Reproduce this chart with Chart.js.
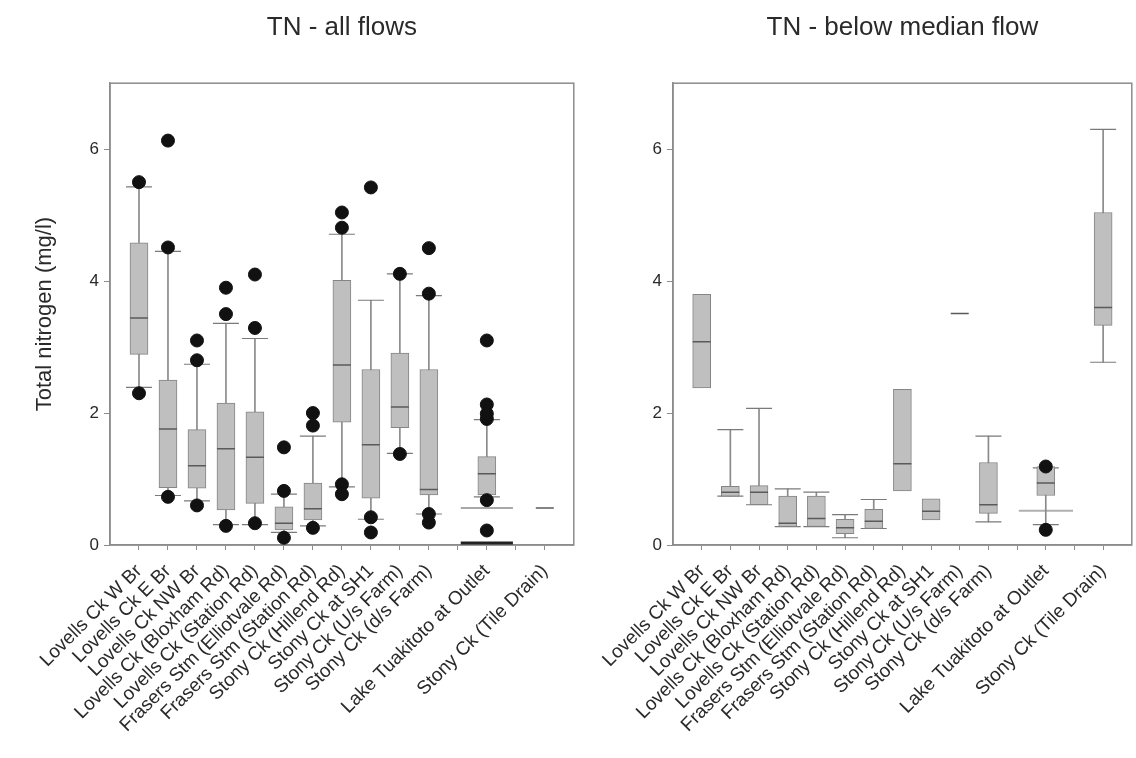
<!DOCTYPE html>
<html>
<head>
<meta charset="utf-8">
<script src="https://cdn.jsdelivr.net/npm/chart.js@4.4.0/dist/chart.umd.min.js"></script>
<style>
    body { margin: 0; background: #fff; width: 1136px; height: 758px; overflow: hidden; position: relative; }
    .painel { position: absolute; top: 0; height: 758px; }
</style>
</head>
<body>
<div class="painel" style="left:0;width:588px"><canvas id="graficoTodos"></canvas></div>
<div class="painel" style="left:580px;width:566px"><canvas id="graficoMediana"></canvas></div>
<script>
// Locais (posicoes 12 e 14 ficam vazias no eixo)
const sites = [
    "Lovells Ck W Br",
    "Lovells Ck E Br",
    "Lovells Ck NW Br",
    "Lovells Ck (Bloxham Rd)",
    "Lovells Ck (Station Rd)",
    "Frasers Stm (Elliotvale Rd)",
    "Frasers Stm (Station Rd)",
    "Stony Ck (Hillend Rd)",
    "Stony Ck at SH1",
    "Stony Ck (U/s Farm)",
    "Stony Ck (d/s Farm)",
    "",
    "Lake Tuakitoto at Outlet",
    "",
    "Stony Ck (Tile Drain)",
];
const yTicks = [0, 2, 4, 6];

// TN - all flows
const allQ1 = [2.89, 0.87, 0.86, 0.53, 0.63, 0.23, 0.38, 1.86, 0.71, 1.78, 0.76, null, 0.76, null, 0.56];
const allMed = [3.44, 1.76, 1.20, 1.46, 1.33, 0.33, 0.55, 2.73, 1.52, 2.09, 0.84, null, 1.08, null, 0.56];
const allQ3 = [4.58, 2.50, 1.75, 2.15, 2.02, 0.58, 0.94, 4.01, 2.66, 2.91, 2.66, null, 1.34, null, 0.56];
const allWLo = [2.39, 0.75, 0.67, 0.31, 0.31, 0.19, 0.29, 0.88, 0.39, 1.39, 0.47, null, 0.73, null, null];
const allWHi = [5.43, 4.45, 2.74, 3.36, 3.13, 0.77, 1.65, 4.71, 3.71, 4.11, 3.78, null, 1.90, null, null];
const allOut = [
    [5.5, 2.3], [6.13, 4.51, 0.73], [3.1, 2.8, 0.6], [3.9, 3.5, 0.29], [4.1, 3.29, 0.33],
    [1.48, 0.82, 0.11], [2.0, 1.81, 0.26], [5.04, 4.81, 0.92, 0.77], [5.42, 0.42, 0.19],
    [4.11, 1.38], [4.5, 3.81, 0.47, 0.34], [], [3.1, 2.13, 1.99, 1.91, 0.68, 0.22], [], [],
];
const allRefX = [12.1, 13.9];
const allRefY = [0.56, 0.56];
const allBaseY = [0.03, 0.03];

// TN - below median flow
const lowQ1 = [2.38, 0.74, 0.61, 0.28, 0.28, 0.17, 0.25, 0.82, 0.38, 3.51, 0.48, null, 0.75, null, 3.33];
const lowMed = [3.08, 0.80, 0.80, 0.33, 0.40, 0.26, 0.36, 1.23, 0.51, 3.51, 0.61, null, 0.94, null, 3.60];
const lowQ3 = [3.80, 0.89, 0.90, 0.74, 0.74, 0.39, 0.54, 2.36, 0.70, 3.51, 1.25, null, 1.19, null, 5.04];
const lowWLo = [null, 0.74, 0.61, 0.28, 0.28, 0.11, 0.25, null, null, null, 0.35, null, 0.31, null, 2.77];
const lowWHi = [null, 1.75, 2.07, 0.85, 0.80, 0.46, 0.69, null, null, null, 1.65, null, 1.17, null, 6.30];
const lowOut = [[], [], [], [], [], [], [], [], [], [], [], [], [1.19, 0.23], [], []];
const lowRefX = [12.06, 13.95];
const lowRefY = [0.52, 0.52];

const fonte = "'Liberation Sans', Arial, sans-serif";

function pontos(valores) {
    return valores
        .map((v, i) => (v === null ? null : { x: i + 1, y: v }))
        .filter((p) => p);
}

function faixas(lo, hi) {
    return lo
        .map((v, i) => (v === null || hi[i] === null || v === hi[i] ? null : { x: i + 1, y: [v, hi[i]] }))
        .filter((p) => p);
}

function linha(xs, ys) {
    return xs.map((x, i) => ({ x: x, y: ys[i] }));
}

// moldura em volta da area do grafico
const moldura = {
    id: "moldura",
    beforeDatasetsDraw(chart) {
        const a = chart.chartArea;
        const ctx = chart.ctx;
        ctx.save();
        ctx.strokeStyle = "#8c8c8c";
        ctx.lineWidth = 1.5;
        ctx.strokeRect(a.left, a.top, a.right - a.left, a.bottom - a.top);
        ctx.restore();
    },
};

function montaGrafico(id, titulo, q1, med, q3, wLo, wHi, out, extras, yTitulo, yLargura, padDireita) {
    const outliers = out.flatMap((lista, i) => lista.map((v) => ({ x: i + 1, y: v })));
    const datasets = [
        {
            type: "scatter",
            label: "Outliers",
            data: outliers,
            backgroundColor: "#111",
            borderColor: "#111",
            pointRadius: 6.5,
            order: 0,
            clip: false,
        },
        {
            type: "scatter",
            label: "Mediana",
            data: pontos(med),
            pointStyle: "line",
            pointRadius: 9,
            borderColor: "#5a5a5a",
            borderWidth: 1.5,
            order: 1,
        },
        {
            type: "bar",
            label: "Caixa",
            data: faixas(q1, q3),
            backgroundColor: "#bfbfbf",
            borderColor: "#858585",
            borderWidth: 1,
            borderSkipped: false,
            barThickness: 18,
            grouped: false,
            order: 2,
        },
        {
            type: "scatter",
            label: "Limites",
            data: pontos(wLo).concat(pontos(wHi)),
            pointStyle: "line",
            pointRadius: 13,
            borderColor: "#7a7a7a",
            borderWidth: 1.2,
            order: 3,
        },
        {
            type: "bar",
            label: "Bigodes",
            data: faixas(wLo, wHi),
            backgroundColor: "#8a8a8a",
            borderWidth: 0,
            barThickness: 1,
            grouped: false,
            order: 4,
        },
    ].concat(extras);

    return new Chart(document.getElementById(id), {
        type: "bar",
        data: { datasets: datasets },
        options: {
            maintainAspectRatio: false,
            animation: false,
            layout: { padding: { left: 0, right: padDireita, top: 0, bottom: 0 } },
            plugins: {
                legend: { display: false },
                tooltip: { enabled: false },
                title: {
                    display: true,
                    fullSize: false,
                    text: titulo,
                    color: "#2a2a2a",
                    font: { family: fonte, size: 26, weight: "normal" },
                    padding: { top: 12, bottom: 40 },
                },
            },
            scales: {
                x: {
                    type: "linear",
                    min: 0,
                    max: 16,
                    offset: false,
                    afterBuildTicks: (s) => {
                        s.ticks = sites.map((_, i) => ({ value: i + 1 }));
                    },
                    afterFit: (s) => {
                        s.height = 213;
                        s.paddingLeft = 0;
                        s.paddingRight = 0;
                    },
                    ticks: {
                        autoSkip: false,
                        maxRotation: 45,
                        minRotation: 45,
                        padding: 10,
                        color: "#2a2a2a",
                        font: { family: fonte, size: 19 },
                        callback: (v) => sites[v - 1] || "",
                    },
                    grid: { drawOnChartArea: false, offset: false, tickLength: 5, color: "#8c8c8c" },
                    border: { color: "#8c8c8c", width: 1.5 },
                },
                y: {
                    min: 0,
                    max: 7,
                    afterBuildTicks: (s) => {
                        s.ticks = yTicks.map((v) => ({ value: v }));
                    },
                    afterFit: (s) => {
                        s.width = yLargura;
                    },
                    ticks: {
                        padding: 5,
                        color: "#2a2a2a",
                        font: { family: fonte, size: 17 },
                    },
                    grid: { drawOnChartArea: false, tickLength: 6, color: "#8c8c8c" },
                    border: { color: "#8c8c8c", width: 1.5 },
                    title: {
                        display: yTitulo !== "",
                        text: yTitulo,
                        color: "#2a2a2a",
                        font: { family: fonte, size: 22 },
                        padding: { top: 32, bottom: 0 },
                    },
                },
            },
        },
        plugins: [moldura],
    });
}

const extrasTodos = [
    {
        type: "line",
        label: "Referencia",
        data: linha(allRefX, allRefY),
        borderColor: "#a8a8a8",
        borderWidth: 2,
        pointRadius: 0,
        order: 5,
    },
    {
        type: "line",
        label: "Base",
        data: linha(allRefX, allBaseY),
        borderColor: "#222",
        borderWidth: 3,
        pointRadius: 0,
        order: 5,
    },
];

const extrasMediana = [
    {
        type: "line",
        label: "Referencia",
        data: linha(lowRefX, lowRefY),
        borderColor: "#b0b0b0",
        borderWidth: 2,
        pointRadius: 0,
        order: 5,
    },
];

var graficoTodos = montaGrafico(
    "graficoTodos", "TN - all flows",
    allQ1, allMed, allQ3, allWLo, allWHi, allOut, extrasTodos,
    "Total nitrogen (mg/l)", 110, 0
);

var graficoMediana = montaGrafico(
    "graficoMediana", "TN - below median flow",
    lowQ1, lowMed, lowQ3, lowWLo, lowWHi, lowOut, extrasMediana,
    "", 93, 0
);
</script>
</body>
</html>
